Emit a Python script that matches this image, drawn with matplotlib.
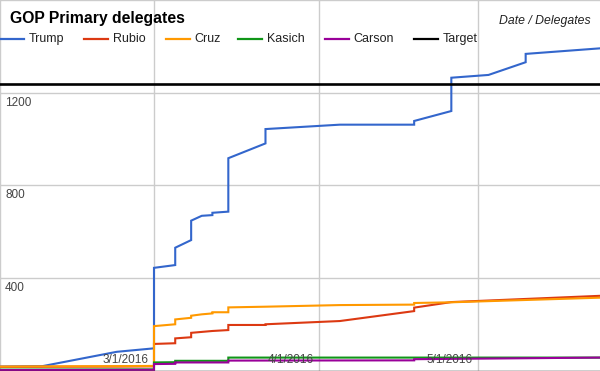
import matplotlib
matplotlib.use("Agg")
import matplotlib.pyplot as plt
from matplotlib.lines import Line2D
import pandas as pd

plt.rcParams['font.family'] = ['Liberation Sans', 'DejaVu Sans']

# cumulative delegates (repeated dates = step)
trump_dates = ['2016-02-01', '2016-02-09', '2016-02-23', '2016-03-01', '2016-03-01',
               '2016-03-05', '2016-03-05', '2016-03-08', '2016-03-08', '2016-03-10',
               '2016-03-12', '2016-03-12', '2016-03-15', '2016-03-15', '2016-03-22',
               '2016-03-22', '2016-04-05', '2016-04-19', '2016-04-19', '2016-04-26',
               '2016-04-26', '2016-05-03', '2016-05-10', '2016-05-10', '2016-05-24']
trump_vals = [17, 19, 81, 96, 444, 456, 531, 564, 648, 669, 672, 682, 687, 918, 982,
              1044, 1063, 1063, 1079, 1122, 1266, 1278, 1333, 1369, 1393]

rubio_dates = ['2016-02-01', '2016-02-23', '2016-03-01', '2016-03-01', '2016-03-05',
               '2016-03-05', '2016-03-08', '2016-03-08', '2016-03-12', '2016-03-15',
               '2016-03-15', '2016-03-22', '2016-03-22', '2016-04-05', '2016-04-19',
               '2016-04-19', '2016-04-26', '2016-05-24']
rubio_vals = [16, 17, 18, 115, 118, 139, 144, 163, 171, 175, 197, 197, 200, 214, 257,
              272, 296, 323]

cruz_dates = ['2016-02-01', '2016-02-09', '2016-02-23', '2016-03-01', '2016-03-01',
              '2016-03-05', '2016-03-05', '2016-03-08', '2016-03-08', '2016-03-10',
              '2016-03-12', '2016-03-12', '2016-03-15', '2016-03-15', '2016-03-22',
              '2016-04-05', '2016-04-19', '2016-04-19', '2016-04-26', '2016-05-24']
cruz_vals = [17, 18, 19, 20, 192, 200, 221, 228, 237, 243, 247, 252, 252, 273, 276,
             283, 285, 292, 295, 315]

kasich_dates = ['2016-02-01', '2016-03-01', '2016-03-01', '2016-03-05', '2016-03-05',
                '2016-03-15', '2016-03-15', '2016-05-24']
kasich_vals = [4, 5, 35, 36, 42, 42, 56, 56]

carson_dates = ['2016-02-01', '2016-03-01', '2016-03-01', '2016-03-05', '2016-03-05',
                '2016-03-15', '2016-03-15', '2016-04-19', '2016-04-19', '2016-05-24']
carson_vals = [2, 3, 28, 29, 35, 35, 43, 44, 49, 56]

target = 1237

names = ['Trump', 'Rubio', 'Cruz', 'Kasich', 'Carson', 'Target']
colors = ['#3366cc', '#dc3912', '#ff9900', '#109618', '#990099', '#000000']
y_ticks = [0, 400, 800, 1200, 1600]
x_ticks = ['2016-02-01', '2016-03-01', '2016-04-01', '2016-05-01']
x_start, x_end = '2016-02-01', '2016-05-24'

series = [(trump_dates, trump_vals), (rubio_dates, rubio_vals), (cruz_dates, cruz_vals),
          (kasich_dates, kasich_vals), (carson_dates, carson_vals)]

W, H = 600, 371
fig = plt.figure(figsize=(W / 100, H / 100), dpi=100)
ax = fig.add_axes([0, 0, 1, 1])

for (d, v), c in zip(series, colors):
    ax.plot(pd.to_datetime(d), v, color=c, lw=1.5, solid_joinstyle='miter', zorder=3)
ax.axhline(target, color=colors[-1], lw=1.9, zorder=3)
ax.axhline(0, color='#333333', lw=1, zorder=4)

xt = pd.to_datetime(x_ticks)
ax.set_xlim(pd.Timestamp(x_start), pd.Timestamp(x_end))
ax.set_ylim(-2, 1602)
ax.set_xticks(xt)
ax.set_yticks(y_ticks)
ax.grid(color='#cccccc', lw=1, zorder=0)
ax.tick_params(length=0, labelleft=False, labelbottom=False)
for s in ax.spines.values():
    s.set_visible(False)

# axis labels drawn inside the plot area, google-charts style
for v in y_ticks[1:-1]:
    ax.annotate(str(v), xy=(0, v), xycoords=('axes fraction', 'data'),
                xytext=(5, -10), textcoords='offset pixels',
                ha='left', va='center', fontsize=8.5, color='#444444', zorder=5)
for d in xt[1:]:
    ax.annotate(f'{d.month}/{d.day}/{d.year}', xy=(d, 0), xycoords=('data', 'axes fraction'),
                xytext=(-5, 11), textcoords='offset pixels',
                ha='right', va='center', fontsize=8.5, color='#444444', zorder=5)

fig.text(10 / W, 1 - 18 / H, 'GOP Primary delegates', fontsize=11.3, weight='bold',
         va='center', ha='left', color='#000000')
fig.text(591 / W, 1 - 21 / H, 'Date / Delegates', fontsize=8.8, style='italic',
         va='center', ha='right', color='#222222')

# legend row
leg_x = [0, 84, 165.5, 238, 324.5, 414]
leg_y = 1 - 39 / H
for x0, n, c in zip(leg_x, names, colors):
    fig.add_artist(Line2D([x0 / W, (x0 + 24) / W], [leg_y, leg_y], color=c, lw=1.6,
                          transform=fig.transFigure))
    fig.text((x0 + 29) / W, leg_y, n, fontsize=9, va='center', ha='left', color='#222222')

fig.savefig('out.png', dpi=100)
